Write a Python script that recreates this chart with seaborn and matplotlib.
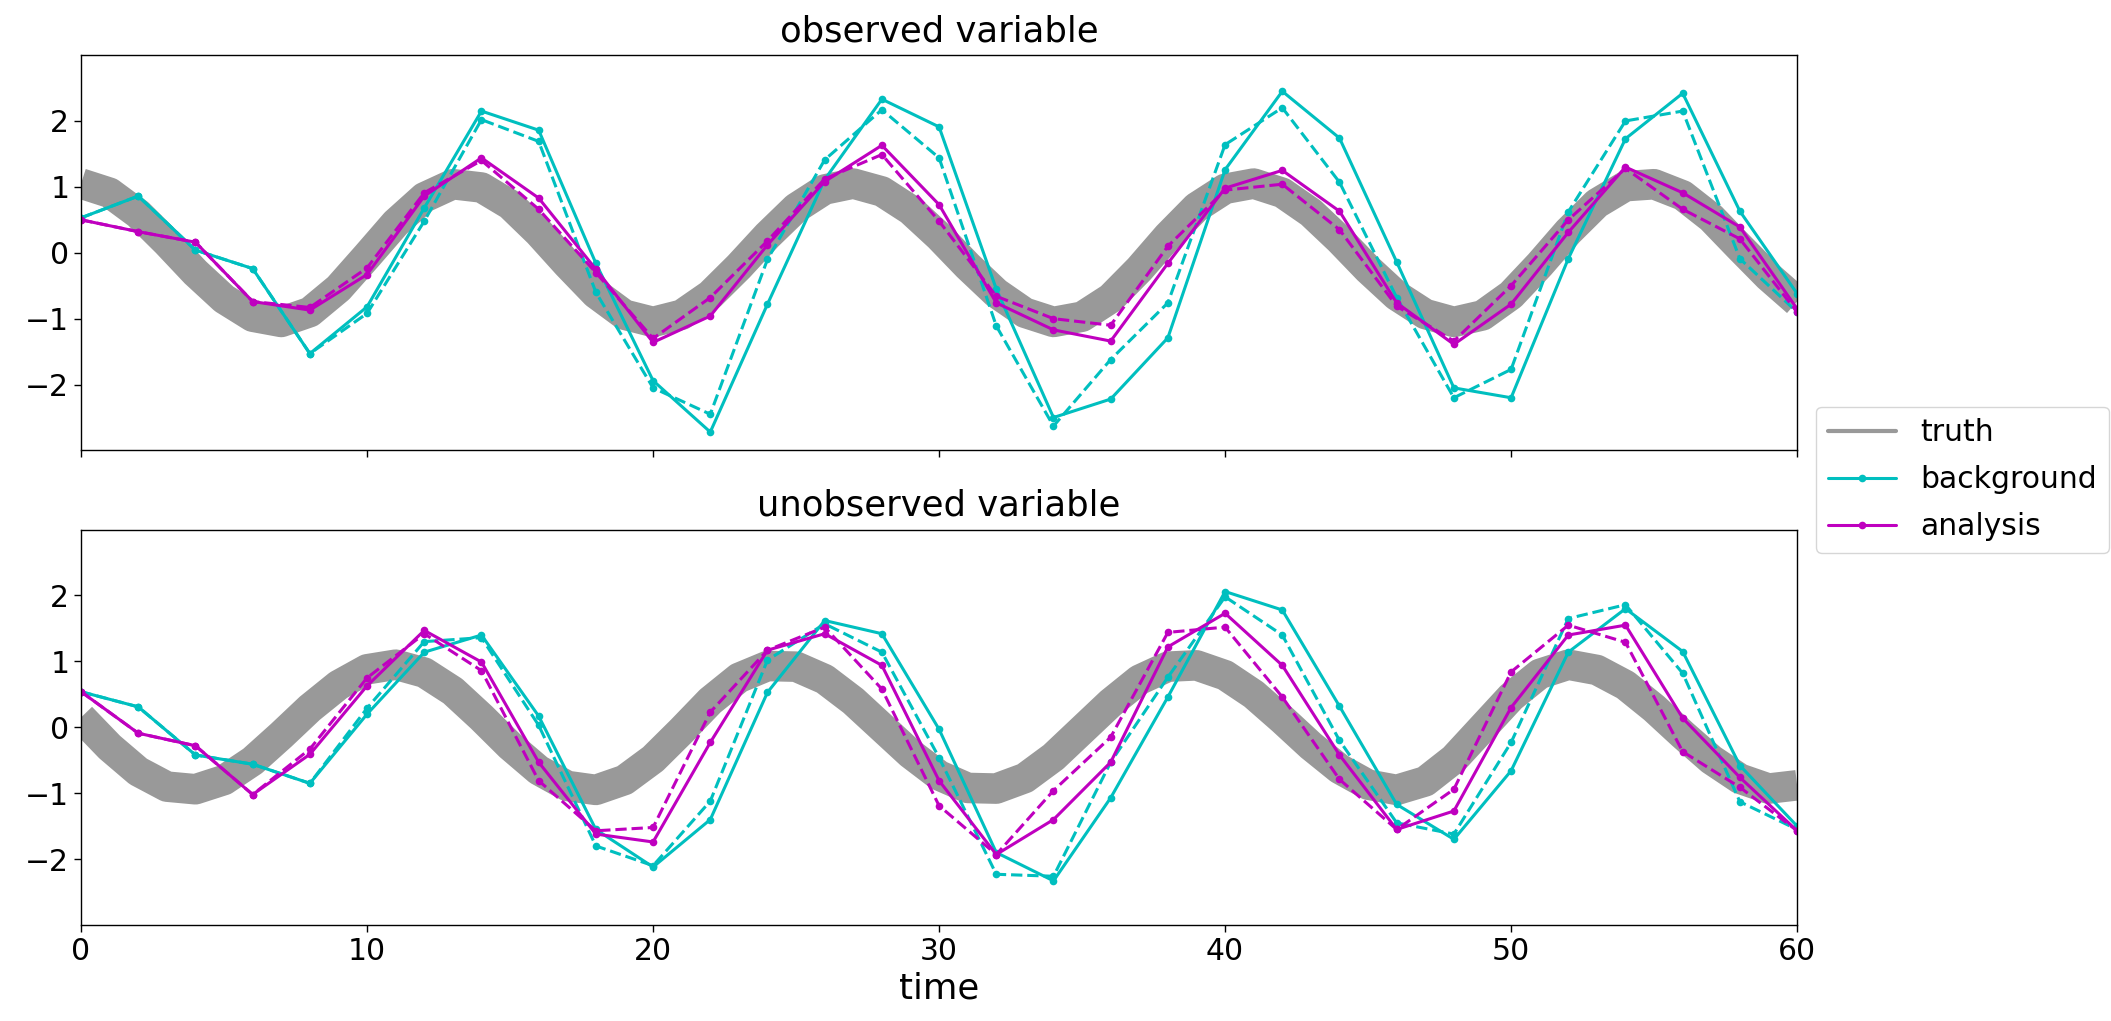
import numpy as np
import pandas as pd
import matplotlib.pyplot as plt
from matplotlib.lines import Line2D
import seaborn as sns

# ---- data ----
t_truth = list(range(0, 61))
truth_obs = [1.05, 0.91, 0.59, 0.16, -0.30, -0.70, -0.97, -1.05, -0.90, -0.54,
             -0.05, 0.45, 0.84, 1.04, 0.99, 0.73, 0.31, -0.17, -0.62, -0.94,
             -1.05, -0.94, -0.64, -0.21, 0.26, 0.68, 0.96, 1.05, 0.93, 0.65,
             0.25, -0.20, -0.61, -0.91, -1.05, -0.97, -0.69, -0.25, 0.25, 0.69,
             0.97, 1.05, 0.91, 0.61, 0.20, -0.25, -0.65, -0.93, -1.05, -0.95,
             -0.64, -0.18, 0.32, 0.75, 1.01, 1.04, 0.87, 0.53, 0.08, -0.36,
             -0.74]
truth_unobs = [0.15, -0.30, -0.67, -0.90, -0.94, -0.80, -0.51, -0.12, 0.29, 0.64,
               0.88, 0.95, 0.83, 0.55, 0.15, -0.28, -0.65, -0.89, -0.95, -0.80,
               -0.48, -0.05, 0.40, 0.75, 0.93, 0.92, 0.73, 0.40, 0.00, -0.40,
               -0.73, -0.92, -0.93, -0.77, -0.45, -0.04, 0.37, 0.72, 0.92, 0.94,
               0.79, 0.50, 0.12, -0.28, -0.63, -0.87, -0.95, -0.82, -0.48, -0.01,
               0.46, 0.81, 0.95, 0.87, 0.64, 0.29, -0.11, -0.49, -0.78, -0.93,
               -0.88]

t_cycle = list(range(0, 61, 2))

# observed variable
bg_obs = [0.53, 0.86, 0.04, -0.24, -1.53, -0.82, 0.68, 2.15, 1.86, -0.16,
          -1.94, -2.72, -0.78, 1.11, 2.33, 1.91, -0.55, -2.50, -2.22, -1.29,
          1.26, 2.45, 1.74, -0.14, -2.05, -2.20, -0.09, 1.73, 2.42, 0.63, -0.62]
bg_obs_2 = [0.53, 0.86, 0.04, -0.24, -1.53, -0.92, 0.48, 2.02, 1.69, -0.60,
            -2.05, -2.45, -0.10, 1.41, 2.17, 1.44, -1.11, -2.63, -1.62, -0.76,
            1.64, 2.20, 1.07, -0.68, -2.20, -1.77, 0.62, 2.00, 2.15, -0.09, -0.90]
an_obs = [0.50, 0.32, 0.16, -0.74, -0.87, -0.33, 0.86, 1.44, 0.83, -0.25,
          -1.36, -0.96, 0.12, 1.08, 1.63, 0.73, -0.76, -1.17, -1.34, -0.16,
          0.98, 1.25, 0.63, -0.76, -1.39, -0.78, 0.31, 1.30, 0.91, 0.39, -0.85]
an_obs_2 = [0.50, 0.32, 0.16, -0.74, -0.83, -0.23, 0.91, 1.40, 0.66, -0.30,
            -1.30, -0.68, 0.18, 1.12, 1.49, 0.48, -0.66, -1.00, -1.10, 0.10,
            0.95, 1.04, 0.35, -0.81, -1.34, -0.50, 0.50, 1.28, 0.66, 0.21, -0.90]

# unobserved variable
bg_unobs = [0.54, 0.31, -0.42, -0.56, -0.85, 0.20, 1.14, 1.40, 0.17, -1.55,
            -2.12, -1.40, 0.53, 1.62, 1.42, -0.03, -1.90, -2.33, -1.07, 0.46,
            2.06, 1.78, 0.32, -1.17, -1.70, -0.66, 1.14, 1.80, 1.15, -0.58, -1.50]
bg_unobs_2 = [0.54, 0.31, -0.42, -0.56, -0.85, 0.29, 1.30, 1.36, 0.03, -1.80,
              -2.10, -1.12, 1.02, 1.57, 1.14, -0.46, -2.23, -2.26, -0.53, 0.76,
              1.98, 1.40, -0.20, -1.45, -1.62, -0.23, 1.65, 1.86, 0.82, -1.13, -1.55]
an_unobs = [0.54, -0.09, -0.28, -1.02, -0.41, 0.63, 1.47, 0.99, -0.53, -1.62,
            -1.74, -0.23, 1.17, 1.42, 0.94, -0.81, -1.93, -1.40, -0.53, 1.22,
            1.73, 0.94, -0.42, -1.55, -1.27, 0.30, 1.40, 1.55, 0.14, -0.76, -1.57]
an_unobs_2 = [0.54, -0.09, -0.28, -1.02, -0.33, 0.75, 1.42, 0.86, -0.81, -1.57,
              -1.52, 0.23, 1.17, 1.52, 0.58, -1.19, -1.93, -0.96, -0.15, 1.44,
              1.52, 0.46, -0.79, -1.55, -0.94, 0.84, 1.55, 1.29, -0.37, -0.91, -1.57]

panel_titles = ['observed variable', 'unobserved variable']
legend_labels = ['truth', 'background', 'analysis']

truth_color = '#999999'
bg_color = '#00BFBF'
an_color = '#BF00BF'

# ---- style ----
sns.set_theme(style="ticks")
plt.rcParams['font.family'] = ['DejaVu Sans']
plt.rcParams['font.size'] = 21.5
plt.rcParams['text.color'] = 'black'
plt.rcParams['axes.labelcolor'] = 'black'
plt.rcParams['axes.edgecolor'] = 'black'
plt.rcParams['axes.linewidth'] = 1.0
plt.rcParams['xtick.color'] = 'black'
plt.rcParams['ytick.color'] = 'black'
plt.rcParams['xtick.major.size'] = 5
plt.rcParams['ytick.major.size'] = 5
plt.rcParams['xtick.major.width'] = 1.0
plt.rcParams['ytick.major.width'] = 1.0
plt.rcParams['xtick.labelsize'] = 21.5
plt.rcParams['ytick.labelsize'] = 21.5
plt.rcParams['axes.titlesize'] = 25.5
plt.rcParams['axes.labelsize'] = 25.5

fig, axes = plt.subplots(2, 1, figsize=(21.11, 10.21), dpi=100, sharex=True, sharey=True)
fig.subplots_adjust(left=0.0384, right=0.8513, top=0.9461, bottom=0.094, hspace=0.2)

panels = [
    (truth_obs, bg_obs, bg_obs_2, an_obs, an_obs_2),
    (truth_unobs, bg_unobs, bg_unobs_2, an_unobs, an_unobs_2),
]

for ax, title, (tr, bg, bg2, an, an2) in zip(axes, panel_titles, panels):
    sns.lineplot(x=t_truth, y=tr, ax=ax, color=truth_color, linewidth=22,
                 solid_capstyle='butt', solid_joinstyle='round')
    line_kw = dict(marker='o', markersize=5.5, markeredgewidth=0, linewidth=2.2)
    sns.lineplot(x=t_cycle, y=bg, ax=ax, color=bg_color, **line_kw)
    sns.lineplot(x=t_cycle, y=bg2, ax=ax, color=bg_color, linestyle='--', **line_kw)
    sns.lineplot(x=t_cycle, y=an, ax=ax, color=an_color, **line_kw)
    sns.lineplot(x=t_cycle, y=an2, ax=ax, color=an_color, linestyle='--', **line_kw)
    ax.set_title(title, pad=10)
    ax.set_xlim(0, 60)
    ax.set_ylim(-3, 3)
    ax.set_yticks([-2, -1, 0, 1, 2])
    ax.set_xticks([0, 10, 20, 30, 40, 50, 60])
    ax.set_ylabel('')
    for s in ax.spines.values():
        s.set_visible(True)

axes[1].set_xlabel('time')

handles = [
    Line2D([], [], color=truth_color, linewidth=3),
    Line2D([], [], color=bg_color, linewidth=2.2, marker='o', markersize=5.5, markeredgewidth=0),
    Line2D([], [], color=an_color, linewidth=2.2, marker='o', markersize=5.5, markeredgewidth=0),
]
fig.legend(handles, legend_labels, loc='center left', bbox_to_anchor=(0.853, 0.530),
           frameon=True, fontsize=21.5, handlelength=2.3, numpoints=1,
           labelspacing=0.6, edgecolor='0.8', fancybox=True, framealpha=0.8)

fig.savefig('out.png', dpi=100)
